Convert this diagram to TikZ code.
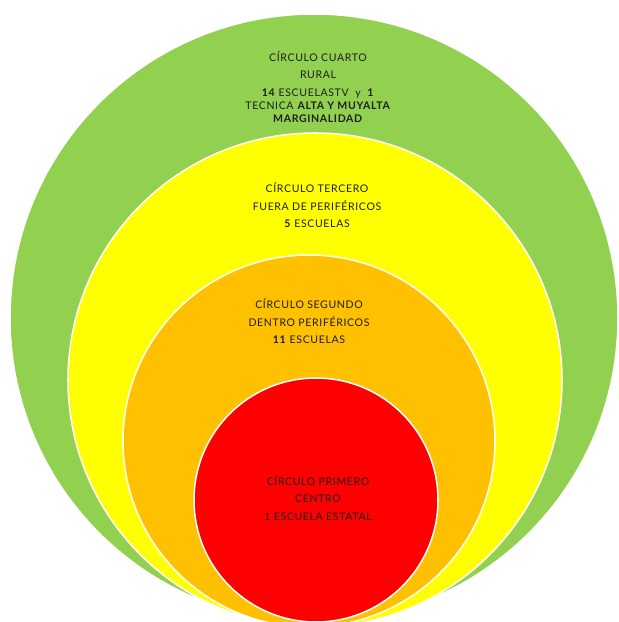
\documentclass[tikz,border=0pt]{standalone}
\usepackage{fontspec}
\setmainfont[LetterSpace=6]{Lato}
\definecolor{anillocuatro}{HTML}{92D050}
\definecolor{anillotres}{HTML}{FFFF00}
\definecolor{anillodos}{HTML}{FFC000}
\definecolor{anillouno}{HTML}{FF0000}
\definecolor{letra}{HTML}{1E1E1E}
\tikzset{
  aro/.style={fill=#1,draw=white,line width=1.3pt},
  rotulo/.style={align=center,text=letra,inner sep=0pt,
    font=\fontsize{9}{11}\selectfont}
}
\begin{document}
\begin{tikzpicture}[x=0.03cm,y=-0.03cm]
            \useasboundingbox (0,0) rectangle (618,622);
            \clip (0,0) rectangle (618,622);
                \draw[aro=anillocuatro](314,318) circle (304);
                \draw[aro=anillotres](315,380) circle (247);
                \draw[aro=anillodos](309,441) circle (186);
                \draw[aro=anillouno](316,500) circle (122);
                   \node[rotulo] (cuarto) at (318,87) {CÍRCULO CUARTO\\[4.3pt] RURAL\\[4.3pt] \textbf{14} ESCUELASTV \ y \ \textbf{1}\\ TECNICA \textbf{ALTA Y MUYALTA}\\ \textbf{MARGINALIDAD}};
                   \node[rotulo] (tercero) at (317,205.5) {CÍRCULO TERCERO\\[4pt] FUERA DE PERIFÉRICOS\\[4pt] \textbf{5} ESCUELAS};
                   \node[rotulo] (segundo) at (309,321.5) {CÍRCULO SEGUNDO\\[4pt] DENTRO PERIFÉRICOS\\[4pt] \textbf{11} ESCUELAS};
                   \node[rotulo] (primero) at (318,498) {CÍRCULO PRIMERO\\[4pt] CENTRO\\[4pt] 1 ESCUELA ESTATAL};
            \end{tikzpicture}
\end{document}
